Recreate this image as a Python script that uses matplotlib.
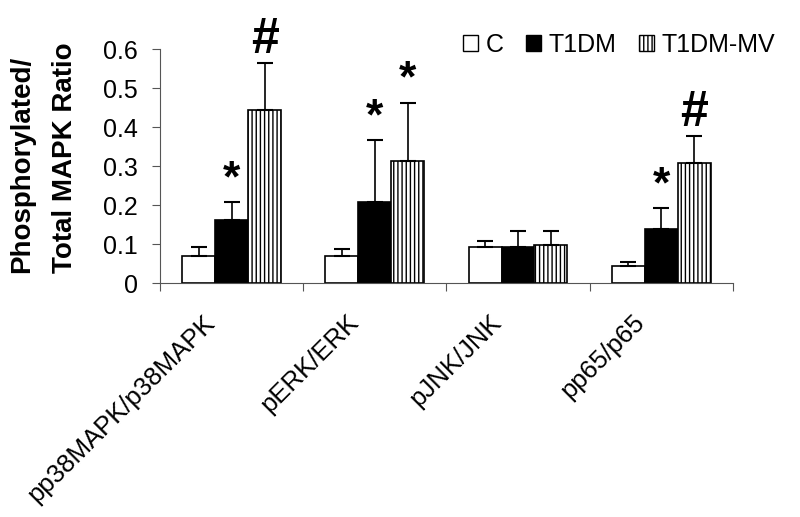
import numpy as np
import matplotlib.pyplot as plt
from matplotlib.patches import Patch

plt.rcParams['font.family'] = ['Liberation Sans', 'DejaVu Sans']

categories = ["pp38MAPK/p38MAPK", "pERK/ERK", "pJNK/JNK", "pp65/p65"]
groups = ["C", "T1DM", "T1DM-MV"]
means = {
    "C": [0.07, 0.07, 0.092, 0.044],
    "T1DM": [0.161, 0.208, 0.092, 0.139],
    "T1DM-MV": [0.443, 0.313, 0.097, 0.308],
}
errors = {
    "C": [0.022, 0.017, 0.016, 0.010],
    "T1DM": [0.047, 0.159, 0.041, 0.053],
    "T1DM-MV": [0.121, 0.149, 0.036, 0.069],
}
marks = {
    "C": ["", "", "", ""],
    "T1DM": ["*", "*", "", "*"],
    "T1DM-MV": ["#", "*", "", "#"],
}

styles = {
    "C": dict(facecolor="white", hatch=None),
    "T1DM": dict(facecolor="black", hatch=None),
    "T1DM-MV": dict(facecolor="white", hatch="||||"),
}

fig = plt.figure(figsize=(8, 5.17), dpi=100)
ax = fig.add_axes([0.2, 0.4526, 0.716, 0.4526])

x = np.arange(len(categories))
w = 0.23
for i, g in enumerate(groups):
    pos = x + (i - 1) * w
    ax.bar(pos, means[g], width=w, edgecolor="black", linewidth=1.2, **styles[g])
    ax.errorbar(pos, means[g], yerr=[np.zeros(4), errors[g]], fmt="none",
                ecolor="black", elinewidth=1.2, capsize=6, capthick=1.5)
    for p, m, e, s in zip(pos, means[g], errors[g], marks[g]):
        if s == "*":
            ax.text(p, m + e + 0.005, s, ha="center", va="bottom", fontsize=32,
                    fontweight="bold", clip_on=False)
        elif s == "#":
            ax.text(p, m + e, s, ha="center", va="bottom", fontsize=36,
                    fontweight="bold", clip_on=False)

ax.set_xlim(-0.5, 3.5)
ax.set_ylim(0, 0.6)
ax.set_yticks(np.arange(0, 0.61, 0.1))
ax.set_yticklabels(["0", "0.1", "0.2", "0.3", "0.4", "0.5", "0.6"], fontsize=18)
ax.set_xticks(np.arange(-0.5, 3.6, 1))
ax.set_xticklabels([])
ax.tick_params(axis="x", length=6, color="#555555")
ax.tick_params(axis="y", length=6, color="#555555", pad=10)
for c, label in zip(x, categories):
    ax.text(c - 0.2, -0.07, label, rotation=45, ha="right", va="top",
            rotation_mode="anchor", fontsize=18.5, transform=ax.transData)
for side in ["top", "right"]:
    ax.spines[side].set_visible(False)
ax.spines["left"].set_color("#555555")
ax.spines["bottom"].set_color("#555555")

# two-line y label, lines start at the same height
fig.text(22 / 800, 0.472, "Phosphorylated/", rotation=90, ha="center", va="bottom",
         fontsize=20, fontweight="bold")
fig.text(65 / 800, 0.472, "Total MAPK Ratio", rotation=90, ha="center", va="bottom",
         fontsize=20, fontweight="bold")

handles = [Patch(edgecolor="black", linewidth=1.0, **styles[g]) for g in groups]
fig.legend(handles, groups, loc="center right", bbox_to_anchor=(0.997, 0.913),
           ncol=3, frameon=False, fontsize=18, handlelength=0.6, handleheight=0.6,
           handletextpad=0.3, columnspacing=0.9)

fig.savefig("out.png", dpi=100)
